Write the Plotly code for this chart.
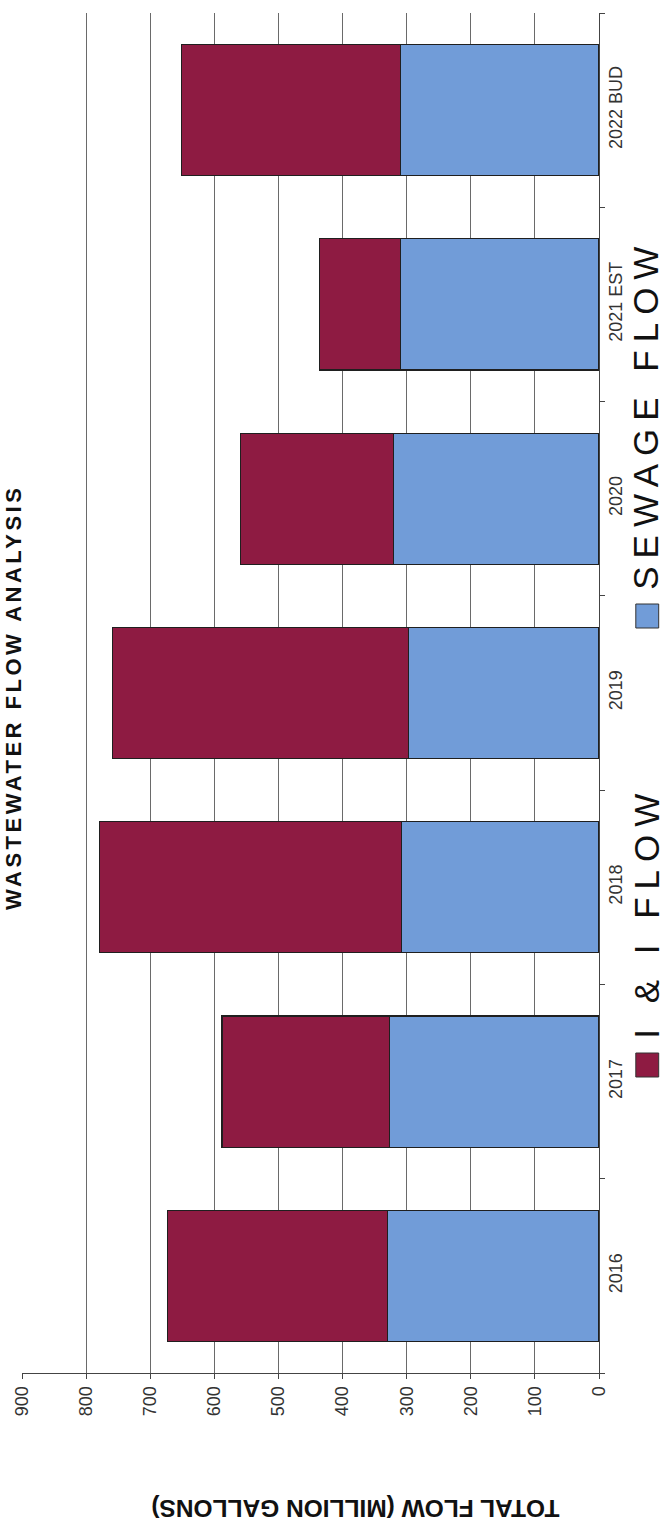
import plotly.graph_objects as go

# Wastewater flow by year (million gallons), stacked: sewage + I&I
years = ["2016", "2017", "2018", "2019", "2020", "2021 EST", "2022 BUD"]
sewage_flow = [330, 327, 308, 297, 321, 309, 309]
ii_flow = [343, 261, 471, 462, 238, 127, 342]
value_ticks = [0, 100, 200, 300, 400, 500, 600, 700, 800, 900]

RED = "#8E1B42"
BLUE = "#719CD8"
FONT = "Arial, Liberation Sans, sans-serif"

W, H = 666, 1526
L, R, T, B = 19, 67, 13, 153          # margins in px
PW, PH = W - L - R, H - T - B


def px(x):
    return (x - L) / PW


def py(y):
    return (H - B - y) / PH


def spaced(text, gap):
    return f'<span style="letter-spacing:{gap}px">{text}</span>'


fig = go.Figure()
fig.add_trace(go.Bar(
    y=years, x=sewage_flow, orientation="h", name="SEWAGE FLOW",
    marker=dict(color=BLUE, line=dict(color="#1f1f1f", width=1.1)),
))
fig.add_trace(go.Bar(
    y=years, x=ii_flow, orientation="h", name="I & I FLOW",
    marker=dict(color=RED, line=dict(color="#1f1f1f", width=1.1)),
))

fig.update_layout(
    width=W, height=H,
    margin=dict(l=L, r=R, t=T, b=B),
    barmode="stack", bargap=0.325,
    showlegend=False,
    paper_bgcolor="white", plot_bgcolor="white",
    font=dict(family=FONT, color="#222"),
    xaxis=dict(
        range=[900, 0], tickvals=value_ticks,
        tickangle=-90, tickfont=dict(size=18, color="#333"),
        showgrid=True, gridcolor="#6a6a6a", gridwidth=1,
        showline=True, linecolor="#444", linewidth=1,
        ticks="outside", ticklen=5, tickcolor="#444",
        zeroline=False,
    ),
    yaxis=dict(
        side="right", tickangle=-90, tickfont=dict(size=18, color="#333"),
        showline=True, linecolor="#444", linewidth=1,
        ticks="outside", ticklen=5, tickcolor="#444", tickson="boundaries",
        showgrid=False, zeroline=False,
    ),
)

# Chart title along the left edge
fig.add_annotation(
    text="<b>" + spaced("WASTEWATER FLOW ANALYSIS", 3.5) + "</b>", textangle=-90,
    x=px(10), y=py(698), xref="paper", yref="paper",
    xanchor="center", yanchor="middle",
    showarrow=False, font=dict(size=22, color="#111", family=FONT),
)

# Value axis title
fig.add_annotation(
    text="<b>TOTAL FLOW (MILLION GALLONS)</b>", textangle=180,
    x=px(354), y=py(1509), xref="paper", yref="paper",
    xanchor="center", yanchor="middle",
    showarrow=False, font=dict(size=24.5, color="#111", family=FONT),
)

# Legend: swatch + label, laid out along the right edge
legend_items = [("I & I FLOW", RED, 1065, 912), ("SEWAGE FLOW", BLUE, 616, 414)]
for label, color, sq_y, txt_y in legend_items:
    fig.add_shape(
        type="rect", xref="paper", yref="paper",
        x0=px(636), x1=px(659), y0=py(sq_y + 12), y1=py(sq_y - 12),
        fillcolor=color, line=dict(color="#333", width=1),
    )
    fig.add_annotation(
        text=spaced(label, 8), textangle=-90,
        x=px(646), y=py(txt_y), xref="paper", yref="paper",
        xanchor="center", yanchor="middle",
        showarrow=False, font=dict(size=35, color="#111", family=FONT),
    )

fig.write_html("out.html")
